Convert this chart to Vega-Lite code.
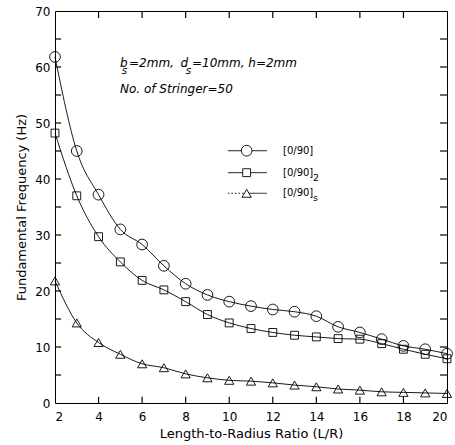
{
  "$schema": "https://vega.github.io/schema/vega-lite/v6.json",
  "width": 392,
  "height": 392,
  "autosize": {"type": "none"},
  "padding": {"left": 55, "top": 11, "right": 8, "bottom": 42},
  "background": "white",
  "resolve": {"axis": {"x": "independent", "y": "independent"}},
  "config": {
    "view": {"stroke": "black", "strokeWidth": 1},
    "font": "DejaVu Sans",
    "axis": {
      "grid": false,
      "domain": false,
      "ticks": false,
      "labelColor": "black",
      "labelFontSize": 12,
      "labelFont": "DejaVu Sans",
      "titleColor": "black",
      "titleFont": "DejaVu Sans",
      "titleFontSize": 13,
      "titleFontWeight": "normal"
    }
  },
  "datasets": {
    "curves": [
      {"series": "c", "x": 2, "y": 61.8}, {"series": "c", "x": 3, "y": 45.0}, {"series": "c", "x": 4, "y": 37.2},
      {"series": "c", "x": 5, "y": 31.0}, {"series": "c", "x": 6, "y": 28.3}, {"series": "c", "x": 7, "y": 24.5},
      {"series": "c", "x": 8, "y": 21.3}, {"series": "c", "x": 9, "y": 19.3}, {"series": "c", "x": 10, "y": 18.1},
      {"series": "c", "x": 11, "y": 17.3}, {"series": "c", "x": 12, "y": 16.7}, {"series": "c", "x": 13, "y": 16.3},
      {"series": "c", "x": 14, "y": 15.5}, {"series": "c", "x": 15, "y": 13.6}, {"series": "c", "x": 16, "y": 12.6},
      {"series": "c", "x": 17, "y": 11.4}, {"series": "c", "x": 18, "y": 10.2}, {"series": "c", "x": 19, "y": 9.6},
      {"series": "c", "x": 20, "y": 8.8},
      {"series": "q", "x": 2, "y": 48.2}, {"series": "q", "x": 3, "y": 37.0}, {"series": "q", "x": 4, "y": 29.7},
      {"series": "q", "x": 5, "y": 25.2}, {"series": "q", "x": 6, "y": 21.9}, {"series": "q", "x": 7, "y": 20.2},
      {"series": "q", "x": 8, "y": 18.1}, {"series": "q", "x": 9, "y": 15.8}, {"series": "q", "x": 10, "y": 14.3},
      {"series": "q", "x": 11, "y": 13.3}, {"series": "q", "x": 12, "y": 12.6}, {"series": "q", "x": 13, "y": 12.1},
      {"series": "q", "x": 14, "y": 11.8}, {"series": "q", "x": 15, "y": 11.5}, {"series": "q", "x": 16, "y": 11.4},
      {"series": "q", "x": 17, "y": 10.6}, {"series": "q", "x": 18, "y": 9.6}, {"series": "q", "x": 19, "y": 8.7},
      {"series": "q", "x": 20, "y": 7.9},
      {"series": "t", "x": 2, "y": 21.8}, {"series": "t", "x": 3, "y": 14.3}, {"series": "t", "x": 4, "y": 10.8},
      {"series": "t", "x": 5, "y": 8.7}, {"series": "t", "x": 6, "y": 7.0}, {"series": "t", "x": 7, "y": 6.3},
      {"series": "t", "x": 8, "y": 5.2}, {"series": "t", "x": 9, "y": 4.5}, {"series": "t", "x": 10, "y": 4.05},
      {"series": "t", "x": 11, "y": 3.9}, {"series": "t", "x": 12, "y": 3.6}, {"series": "t", "x": 13, "y": 3.2},
      {"series": "t", "x": 14, "y": 2.9}, {"series": "t", "x": 15, "y": 2.5}, {"series": "t", "x": 16, "y": 2.3},
      {"series": "t", "x": 17, "y": 2.0}, {"series": "t", "x": 18, "y": 1.9}, {"series": "t", "x": 19, "y": 1.8},
      {"series": "t", "x": 20, "y": 1.7}
    ],
    "ticksX": [
      {"x": 4, "y": 0, "y2": 1.1}, {"x": 6, "y": 0, "y2": 1.1}, {"x": 8, "y": 0, "y2": 1.1}, {"x": 10, "y": 0, "y2": 1.1},
      {"x": 12, "y": 0, "y2": 1.1}, {"x": 14, "y": 0, "y2": 1.1}, {"x": 16, "y": 0, "y2": 1.1}, {"x": 18, "y": 0, "y2": 1.1},
      {"x": 4, "y": 70, "y2": 68.75}, {"x": 6, "y": 70, "y2": 68.75}, {"x": 8, "y": 70, "y2": 68.75}, {"x": 10, "y": 70, "y2": 68.75},
      {"x": 12, "y": 70, "y2": 68.75}, {"x": 14, "y": 70, "y2": 68.75}, {"x": 16, "y": 70, "y2": 68.75}, {"x": 18, "y": 70, "y2": 68.75}
    ],
    "ticksY": [
      {"y": 5, "x": 2, "x2": 2.28}, {"y": 10, "x": 2, "x2": 2.28}, {"y": 15, "x": 2, "x2": 2.28}, {"y": 20, "x": 2, "x2": 2.28},
      {"y": 25, "x": 2, "x2": 2.28}, {"y": 30, "x": 2, "x2": 2.28}, {"y": 35, "x": 2, "x2": 2.28}, {"y": 40, "x": 2, "x2": 2.28},
      {"y": 45, "x": 2, "x2": 2.28}, {"y": 50, "x": 2, "x2": 2.28}, {"y": 55, "x": 2, "x2": 2.28}, {"y": 60, "x": 2, "x2": 2.28},
      {"y": 65, "x": 2, "x2": 2.28},
      {"y": 5, "x": 20, "x2": 19.68}, {"y": 10, "x": 20, "x2": 19.68}, {"y": 15, "x": 20, "x2": 19.68}, {"y": 20, "x": 20, "x2": 19.68},
      {"y": 25, "x": 20, "x2": 19.68}, {"y": 30, "x": 20, "x2": 19.68}, {"y": 35, "x": 20, "x2": 19.68}, {"y": 40, "x": 20, "x2": 19.68},
      {"y": 45, "x": 20, "x2": 19.68}, {"y": 50, "x": 20, "x2": 19.68}, {"y": 55, "x": 20, "x2": 19.68}, {"y": 60, "x": 20, "x2": 19.68},
      {"y": 65, "x": 20, "x2": 19.68}
    ],
    "legendLines": [
      {"series": "c", "x": 9.94, "x2": 11.73, "y": 45.05, "dash": "solid"},
      {"series": "q", "x": 9.94, "x2": 11.73, "y": 41.13, "dash": "solid"},
      {"series": "t", "x": 9.94, "x2": 10.8, "y": 37.45, "dash": "dotted"},
      {"series": "t", "x": 10.8, "x2": 11.73, "y": 37.45, "dash": "solid"}
    ],
    "legendPoints": [
      {"series": "c", "x": 10.8, "y": 45.05},
      {"series": "q", "x": 10.8, "y": 41.13},
      {"series": "t", "x": 10.8, "y": 37.45}
    ],
    "legendLabels": [
      {"x": 12.47, "y": 45.05, "text": "[0/90]"},
      {"x": 12.47, "y": 41.13, "text": "[0/90]"},
      {"x": 12.47, "y": 37.45, "text": "[0/90]"}
    ],
    "legendSubs": [
      {"x": 12.47, "y": 41.13, "text": "2"},
      {"x": 12.47, "y": 37.45, "text": "s"}
    ],
    "notes": [
      {"x": 4.984, "y": 60.05, "text": "b"},
      {"x": 5.40, "y": 60.05, "text": "=2mm,"},
      {"x": 7.76, "y": 60.05, "text": "d"},
      {"x": 8.29, "y": 60.05, "text": "=10mm, h=2mm"},
      {"x": 4.984, "y": 55.3, "text": "No. of Stringer=50"}
    ],
    "noteSubs": [
      {"x": 5.06, "y": 58.8, "text": "s"},
      {"x": 8.0, "y": 58.8, "text": "s"}
    ]
  },
  "layer": [
    {
      "data": {"name": "curves"},
      "mark": {"type": "line", "color": "black", "strokeWidth": 0.9, "interpolate": "monotone"},
      "encoding": {
        "x": {
          "field": "x", "type": "quantitative",
          "scale": {"domain": [2, 20], "nice": false, "zero": false},
          "axis": {
            "orient": "bottom",
            "values": [2, 4, 6, 8, 10, 12, 14, 16, 18, 20],
            "labelPadding": 8,
            "title": "Length-to-Radius Ratio (L/R)",
            "titlePadding": 5
          }
        },
        "y": {
          "field": "y", "type": "quantitative",
          "scale": {"domain": [0, 70], "nice": false},
          "axis": {
            "orient": "left",
            "values": [0, 10, 20, 30, 40, 50, 60, 70],
            "labelPadding": 5,
            "title": "Fundamental Frequency (Hz)",
            "titlePadding": 6
          }
        },
        "detail": {"field": "series"}
      }
    },
    {
      "data": {"name": "ticksX"},
      "mark": {"type": "rule", "color": "black", "strokeWidth": 1.2},
      "encoding": {
        "x": {"field": "x", "type": "quantitative", "axis": null},
        "y": {"field": "y", "type": "quantitative", "axis": null},
        "y2": {"field": "y2"}
      }
    },
    {
      "data": {"name": "ticksY"},
      "mark": {"type": "rule", "color": "black", "strokeWidth": 1.2},
      "encoding": {
        "x": {"field": "x", "type": "quantitative", "axis": null},
        "x2": {"field": "x2"},
        "y": {"field": "y", "type": "quantitative", "axis": null}
      }
    },
    {
      "data": {"name": "curves"},
      "transform": [{"filter": "datum.series == 'c'"}],
      "mark": {"type": "point", "shape": "circle", "size": 115, "filled": false, "color": "black", "strokeWidth": 0.9, "opacity": 1},
      "encoding": {
        "x": {"field": "x", "type": "quantitative", "axis": null},
        "y": {"field": "y", "type": "quantitative", "axis": null}
      }
    },
    {
      "data": {"name": "curves"},
      "transform": [{"filter": "datum.series == 'q'"}],
      "mark": {"type": "point", "shape": "square", "size": 62, "filled": false, "color": "black", "strokeWidth": 0.9, "opacity": 1},
      "encoding": {
        "x": {"field": "x", "type": "quantitative", "axis": null},
        "y": {"field": "y", "type": "quantitative", "axis": null}
      }
    },
    {
      "data": {"name": "curves"},
      "transform": [{"filter": "datum.series == 't'"}],
      "mark": {"type": "point", "shape": "triangle-up", "size": 85, "filled": false, "color": "black", "strokeWidth": 0.9, "opacity": 1},
      "encoding": {
        "x": {"field": "x", "type": "quantitative", "axis": null},
        "y": {"field": "y", "type": "quantitative", "axis": null}
      }
    },
    {
      "data": {"name": "legendLines"},
      "mark": {"type": "rule", "color": "black", "strokeWidth": 0.9},
      "encoding": {
        "x": {"field": "x", "type": "quantitative", "axis": null},
        "x2": {"field": "x2"},
        "y": {"field": "y", "type": "quantitative", "axis": null},
        "strokeDash": {"field": "dash", "type": "nominal", "scale": {"domain": ["solid", "dotted"], "range": [[1, 0], [1.5, 2]]}, "legend": null}
      }
    },
    {
      "data": {"name": "legendPoints"},
      "transform": [{"filter": "datum.series == 'c'"}],
      "mark": {"type": "point", "shape": "circle", "size": 115, "filled": true, "fill": "white", "stroke": "black", "strokeWidth": 0.9, "opacity": 1},
      "encoding": {
        "x": {"field": "x", "type": "quantitative", "axis": null},
        "y": {"field": "y", "type": "quantitative", "axis": null}
      }
    },
    {
      "data": {"name": "legendPoints"},
      "transform": [{"filter": "datum.series == 'q'"}],
      "mark": {"type": "point", "shape": "square", "size": 62, "filled": true, "fill": "white", "stroke": "black", "strokeWidth": 0.9, "opacity": 1},
      "encoding": {
        "x": {"field": "x", "type": "quantitative", "axis": null},
        "y": {"field": "y", "type": "quantitative", "axis": null}
      }
    },
    {
      "data": {"name": "legendPoints"},
      "transform": [{"filter": "datum.series == 't'"}],
      "mark": {"type": "point", "shape": "triangle-up", "size": 85, "filled": true, "fill": "white", "stroke": "black", "strokeWidth": 0.9, "opacity": 1},
      "encoding": {
        "x": {"field": "x", "type": "quantitative", "axis": null},
        "y": {"field": "y", "type": "quantitative", "axis": null}
      }
    },
    {
      "data": {"name": "legendLabels"},
      "mark": {"type": "text", "align": "left", "baseline": "middle", "fontSize": 10, "font": "DejaVu Sans", "color": "black"},
      "encoding": {
        "x": {"field": "x", "type": "quantitative", "axis": null},
        "y": {"field": "y", "type": "quantitative", "axis": null},
        "text": {"field": "text"}
      }
    },
    {
      "data": {"name": "legendSubs"},
      "mark": {"type": "text", "align": "left", "baseline": "middle", "fontSize": 9.5, "font": "DejaVu Sans", "color": "black", "dx": 30, "dy": 5},
      "encoding": {
        "x": {"field": "x", "type": "quantitative", "axis": null},
        "y": {"field": "y", "type": "quantitative", "axis": null},
        "text": {"field": "text"}
      }
    },
    {
      "data": {"name": "notes"},
      "mark": {"type": "text", "align": "left", "baseline": "alphabetic", "fontSize": 12, "fontStyle": "italic", "font": "DejaVu Sans", "color": "black"},
      "encoding": {
        "x": {"field": "x", "type": "quantitative", "axis": null},
        "y": {"field": "y", "type": "quantitative", "axis": null},
        "text": {"field": "text"}
      }
    },
    {
      "data": {"name": "noteSubs"},
      "mark": {"type": "text", "align": "left", "baseline": "alphabetic", "fontSize": 10.5, "fontStyle": "italic", "font": "DejaVu Sans", "color": "black"},
      "encoding": {
        "x": {"field": "x", "type": "quantitative", "axis": null},
        "y": {"field": "y", "type": "quantitative", "axis": null},
        "text": {"field": "text"}
      }
    }
  ]
}
